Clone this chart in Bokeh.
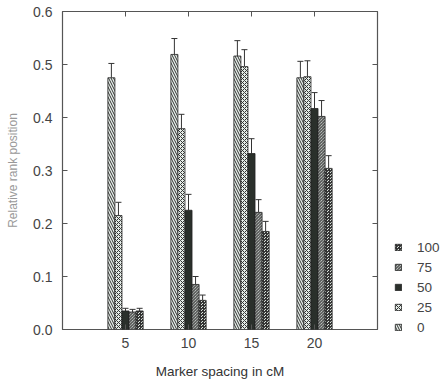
from bokeh.plotting import figure
from bokeh.layouts import row
from bokeh.models import (ColumnDataSource, Whisker, TeeHead, Legend, LegendItem,
                          LinearAxis, FixedTicker, CustomJSTickFormatter, Range1d)
from bokeh.embed import file_html
from bokeh.resources import INLINE

# ---- data ----
spacings = [5, 10, 15, 20]
series_names = ["0", "25", "50", "75", "100"]
legend_order = ["100", "75", "50", "25", "0"]
vals_0 = [0.475, 0.519, 0.516, 0.475]
err_0 = [0.027, 0.030, 0.029, 0.031]
vals_25 = [0.215, 0.379, 0.496, 0.477]
err_25 = [0.025, 0.027, 0.032, 0.030]
vals_50 = [0.035, 0.225, 0.332, 0.417]
err_50 = [0.005, 0.030, 0.028, 0.030]
vals_75 = [0.033, 0.085, 0.221, 0.402]
err_75 = [0.005, 0.015, 0.024, 0.030]
vals_100 = [0.035, 0.055, 0.185, 0.304]
err_100 = [0.005, 0.010, 0.019, 0.024]
y_ticks = [0.0, 0.1, 0.2, 0.3, 0.4, 0.5, 0.6]

values = [vals_0, vals_25, vals_50, vals_75, vals_100]
errors = [err_0, err_25, err_50, err_75, err_100]

styles = {
    "0": dict(fill_color="#e6eee9", hatch_pattern="\\", hatch_scale=5, hatch_color="#333", hatch_weight=1),
    "25": dict(fill_color="#e6eee9", hatch_pattern="x", hatch_scale=4, hatch_color="#333", hatch_weight=1),
    "50": dict(fill_color="#2a302b", hatch_pattern=None),
    "75": dict(fill_color="#e6eee9", hatch_pattern="\\", hatch_scale=3, hatch_color="#333", hatch_weight=1),
    "100": dict(fill_color="#dce5de", hatch_pattern="*", hatch_scale=3, hatch_color="#333", hatch_weight=1),
}

bar_w = 0.56
font = "Liberation Sans"

def style_kw(name):
    st = dict(styles[name])
    hp = st.pop("hatch_pattern")
    if hp:
        st["hatch_pattern"] = hp
    return st

p = figure(width=379, height=384, x_range=(0, 25), y_range=(0, 0.6),
           output_backend="svg", toolbar_location=None,
           min_border_left=62, min_border_right=2, min_border_top=11, min_border_bottom=55)
p.background_fill_color = "white"
p.border_fill_color = "white"
p.xgrid.visible = False
p.ygrid.visible = False
p.outline_line_color = "#555"
p.outline_line_width = 1.2

sources = {}
for i, name in enumerate(series_names):
    off = (i - 2) * bar_w
    xs = [s + off for s in spacings]
    tops = values[i]
    src = ColumnDataSource(dict(x=xs, top=tops, up=[t + e for t, e in zip(tops, errors[i])]))
    sources[name] = src
    p.vbar(x="x", top="top", width=bar_w, bottom=0, source=src,
           line_color="#222", line_width=0.8, **style_kw(name))
    w = Whisker(source=src, base="x", lower="top", upper="up", dimension="height",
                line_color="#333", line_width=1,
                upper_head=TeeHead(size=6, line_color="#333", line_width=1),
                lower_head=None)
    p.add_layout(w)

# axes
p.xaxis.ticker = FixedTicker(ticks=spacings)
p.yaxis.ticker = FixedTicker(ticks=y_ticks)
p.yaxis.formatter = CustomJSTickFormatter(code="return tick.toFixed(1);")
for ax in (p.xaxis[0], p.yaxis[0]):
    ax.major_tick_in = 5
    ax.major_tick_out = 0
    ax.minor_tick_line_color = None
    ax.axis_line_color = None
    ax.major_tick_line_color = "#555"
    ax.major_label_text_font = font
    ax.major_label_text_font_size = "14px"
    ax.major_label_text_color = "#444"
    ax.axis_label_text_font = font
    ax.axis_label_text_font_style = "normal"
p.xaxis.major_label_standoff = 8
p.yaxis.major_label_standoff = 10
p.xaxis.axis_label = "Marker spacing in cM"
p.xaxis.axis_label_text_font_size = "13.5px"
p.xaxis.axis_label_text_color = "#333"
p.xaxis.axis_label_standoff = 13
p.yaxis.axis_label = "Relative rank position"
p.yaxis.axis_label_text_font_size = "12px"
p.yaxis.axis_label_text_color = "#999"
p.yaxis.axis_label_standoff = 10

blank = CustomJSTickFormatter(code="return '';")
right = LinearAxis(ticker=FixedTicker(ticks=y_ticks), major_tick_in=5, major_tick_out=0,
                   minor_tick_line_color=None, axis_line_color=None, formatter=blank,
                   major_tick_line_color="#555", major_label_standoff=0)
p.add_layout(right, "right")
top = LinearAxis(ticker=FixedTicker(ticks=spacings), major_tick_in=5, major_tick_out=0,
                 minor_tick_line_color=None, axis_line_color=None, formatter=blank,
                 major_tick_line_color="#555", major_label_standoff=0)
p.add_layout(top, "above")

# legend panel (separate figure to the right, sharing the sources; ranges keep bars out of view)
lg = figure(width=62, height=384, x_range=Range1d(-10, -9), y_range=Range1d(-10, -9),
            output_backend="svg", toolbar_location=None,
            min_border_left=0, min_border_right=0, min_border_top=0, min_border_bottom=0)
lg.frame_align = False
lg.axis.visible = False
lg.grid.visible = False
lg.outline_line_color = None
lg.background_fill_color = "white"
lg.border_fill_color = "white"
leg_renderers = {}
for name in series_names:
    leg_renderers[name] = lg.vbar(x="x", top="top", width=bar_w, bottom=0, source=sources[name],
                                  line_color="#222", line_width=0.8, **style_kw(name))

legend = Legend(items=[LegendItem(label=n, renderers=[leg_renderers[n]]) for n in legend_order],
                location=(15, 49), border_line_color=None, background_fill_alpha=0,
                glyph_width=8, glyph_height=8, label_standoff=15, spacing=4,
                label_height=16, padding=2, margin=0,
                label_text_font=font, label_text_font_size="13.5px", label_text_color="#444")
lg.add_layout(legend, "center")

layout = row(p, lg, spacing=0)
open("out.html", "w").write(file_html(layout, INLINE))
